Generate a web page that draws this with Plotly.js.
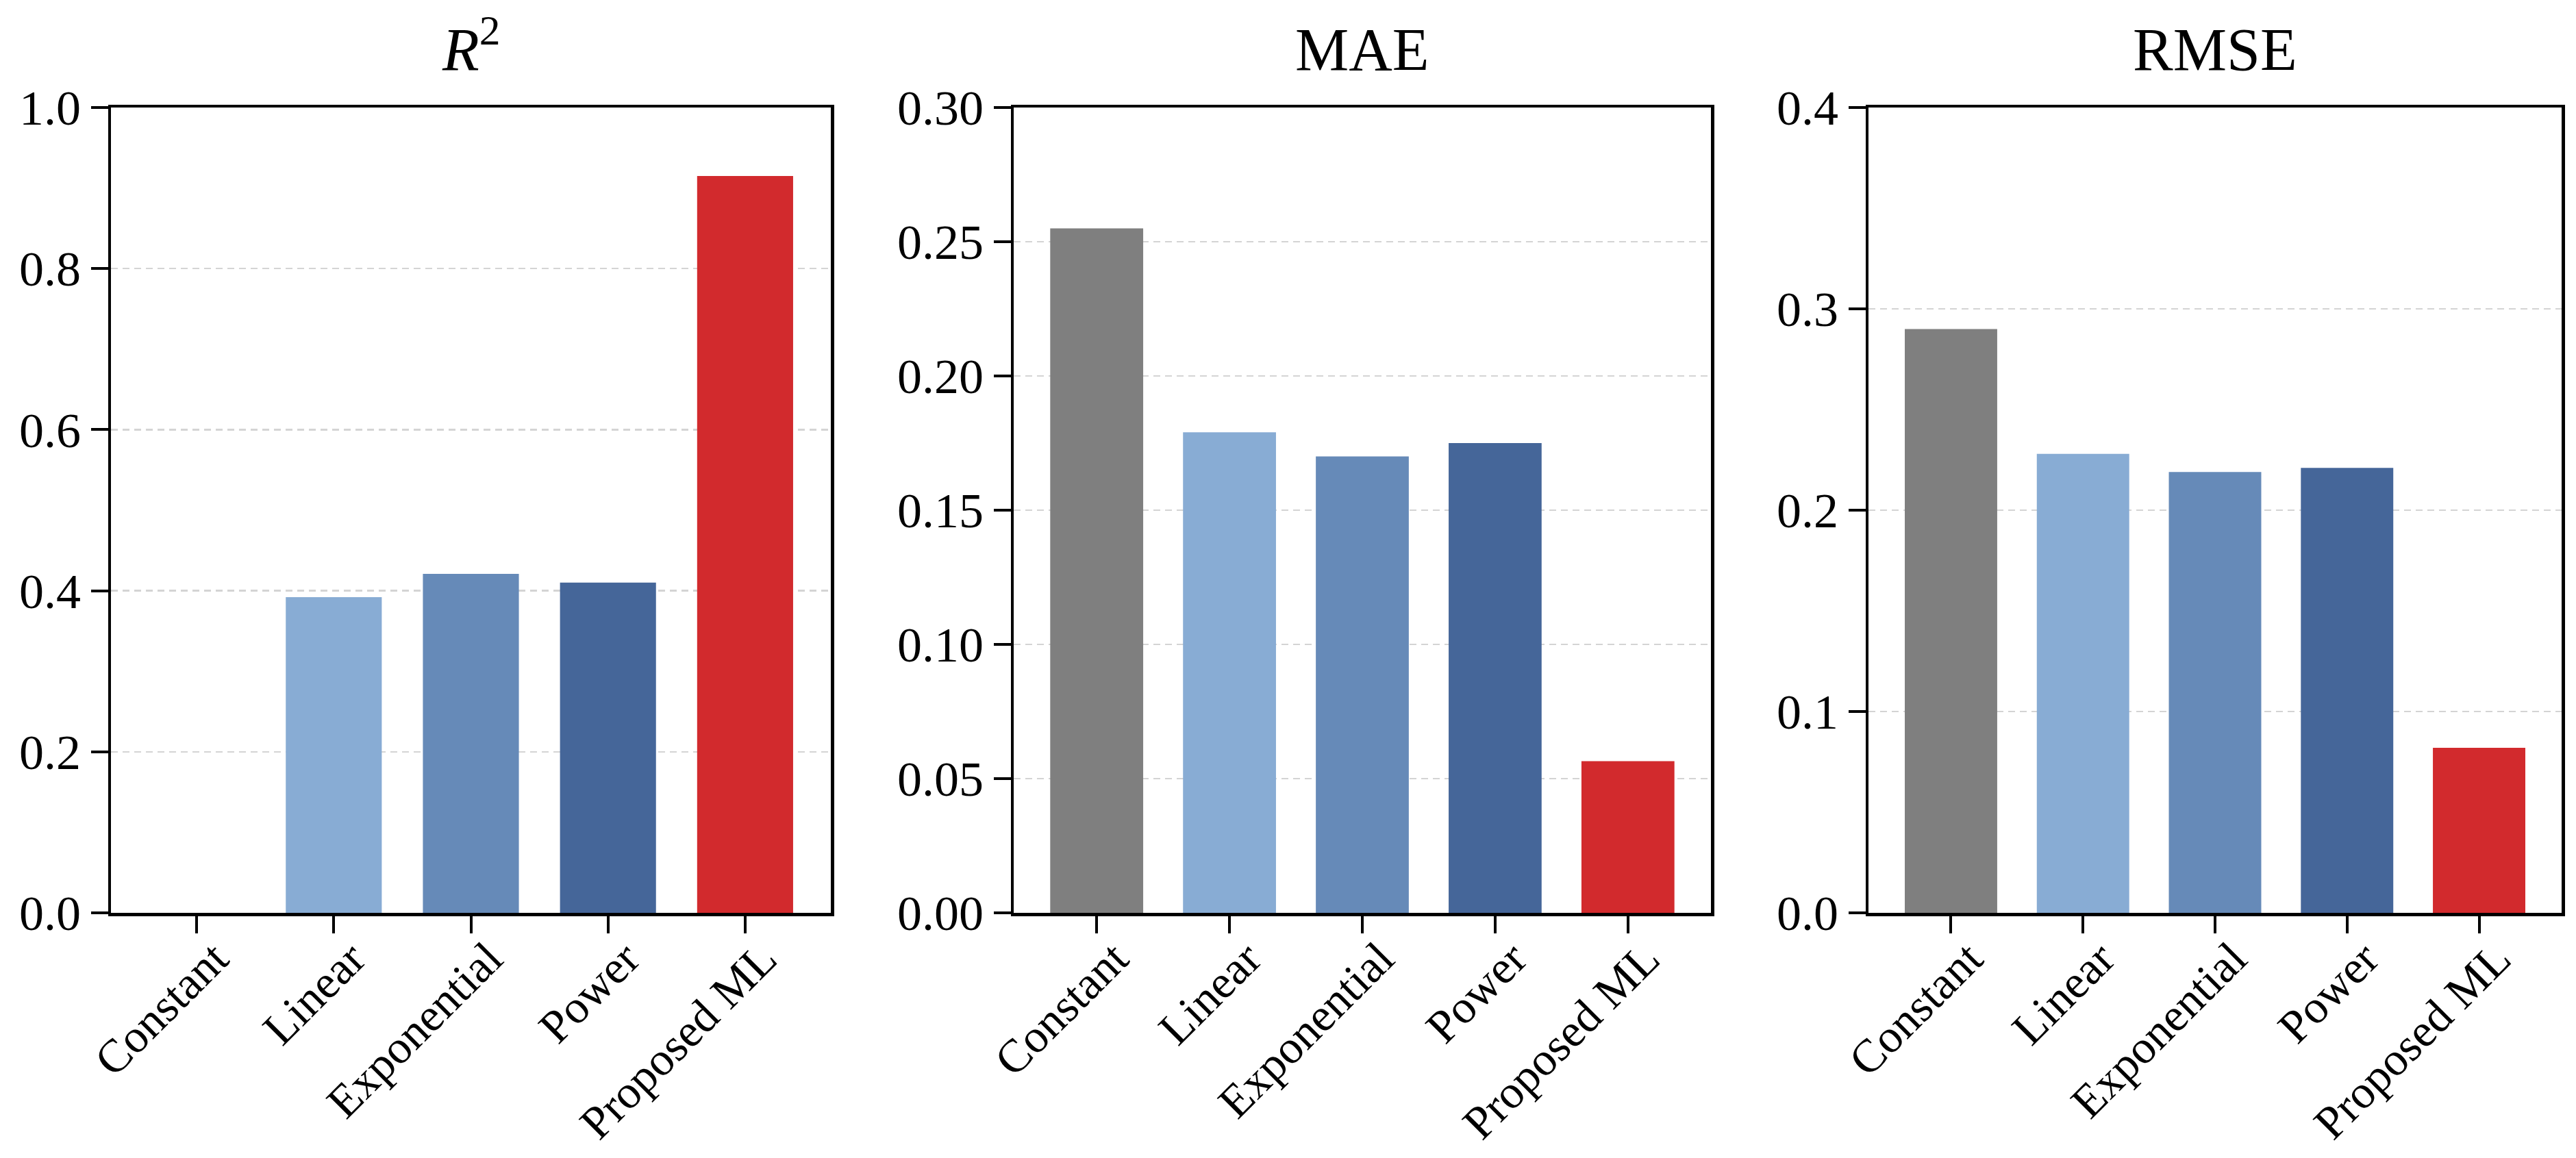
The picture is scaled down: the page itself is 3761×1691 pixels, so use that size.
<!DOCTYPE html>
<html><head><meta charset="utf-8">
<script src="https://cdn.plot.ly/plotly-3.0.1.min.js"></script>
<style>html,body{margin:0;padding:0;background:#fff}#chart{width:3761px;height:1691px}</style>
</head><body><div id="chart"></div>
<script>
// ---- data ----
const categories = ["Constant", "Linear", "Exponential", "Power", "Proposed ML"];
const r2Values   = [0.0, 0.392, 0.421, 0.410, 0.915];
const maeValues  = [0.255, 0.179, 0.170, 0.175, 0.0565];
const rmseValues = [0.290, 0.228, 0.219, 0.221, 0.082];
const barColors  = ["#7f7f7f", "#88acd4", "#668ab8", "#456699", "#d22a2d"];
const panelTitles = ["<i>R</i><sup>2</sup>", "MAE", "RMSE"];
const r2Ticks   = [0.0, 0.2, 0.4, 0.6, 0.8, 1.0];
const r2TickText = ["0.0", "0.2", "0.4", "0.6", "0.8", "1.0"];
const maeTicks  = [0.00, 0.05, 0.10, 0.15, 0.20, 0.25, 0.30];
const maeTickText = ["0.00", "0.05", "0.10", "0.15", "0.20", "0.25", "0.30"];
const rmseTicks = [0.0, 0.1, 0.2, 0.3, 0.4];
const rmseTickText = ["0.0", "0.1", "0.2", "0.3", "0.4"];

// ---- layout helpers ----
const W = 3761, H = 1691;
const FONT = "Liberation Serif, Times New Roman, serif";
const mL = 162, mR = 21, mT = 157, mB = 358;
const plotW = W - mL - mR;
function dom(a, b) { return [(a - mL) / plotW, (b - mL) / plotW]; }
const domains = [dom(162, 1213), dom(1480, 2498), dom(2728, 3740)];
const yRanges = [[0, 1.0], [0, 0.30], [0, 0.4]];
const yTickVals = [r2Ticks, maeTicks, rmseTicks];
const yTickTexts = [r2TickText, maeTickText, rmseTickText];
const series = [r2Values, maeValues, rmseValues];

const traces = series.map((vals, i) => ({
  type: "bar",
  x: categories,
  y: vals,
  xaxis: i === 0 ? "x" : "x" + (i + 1),
  yaxis: i === 0 ? "y" : "y" + (i + 1),
  marker: { color: barColors, line: { width: 0 } },
  width: 0.7,
  hoverinfo: "x+y",
  showlegend: false
}));

const layout = {
  width: W, height: H,
  margin: { l: mL, r: mR, t: mT, b: mB },
  paper_bgcolor: "#ffffff",
  plot_bgcolor: "#ffffff",
  font: { family: FONT, size: 72, color: "#000000" },
  showlegend: false,
  annotations: []
};

for (let i = 0; i < 3; i++) {
  const s = i === 0 ? "" : String(i + 1);
  layout["xaxis" + s] = {
    domain: domains[i],
    anchor: "y" + s,
    type: "category",
    range: [-0.625, 4.625],
    showline: true, linecolor: "#000000", linewidth: 4.5, mirror: true,
    ticks: "outside", ticklen: 25, tickwidth: 4, tickcolor: "#000000",
    tickangle: -45,
    ticklabelshift: 26,
    ticklabelstandoff: -30,
    tickfont: { family: FONT, size: 68, color: "#000000" },
    showgrid: false, zeroline: false, fixedrange: true
  };
  layout["yaxis" + s] = {
    domain: [0, 1],
    anchor: "x" + s,
    range: yRanges[i],
    tickmode: "array",
    tickvals: yTickVals[i],
    ticktext: yTickTexts[i],
    showline: true, linecolor: "#000000", linewidth: 4.5, mirror: true,
    ticks: "outside", ticklen: 25, tickwidth: 4, tickcolor: "#000000",
    tickfont: { family: FONT, size: 72, color: "#000000" },
    showgrid: true, gridcolor: "#d4d4d4", gridwidth: 2.5, griddash: "10px,7px",
    zeroline: false, fixedrange: true
  };
  layout.annotations.push({
    text: panelTitles[i],
    xref: "x" + s + " domain", x: 0.5,
    yref: "y" + s + " domain", y: 1,
    xanchor: "center", yanchor: "bottom",
    yshift: 34,
    showarrow: false,
    font: { family: FONT, size: 88, color: "#000000" }
  });
}

Plotly.newPlot("chart", traces, layout, { staticPlot: true, displayModeBar: false });
</script>
</body></html>
